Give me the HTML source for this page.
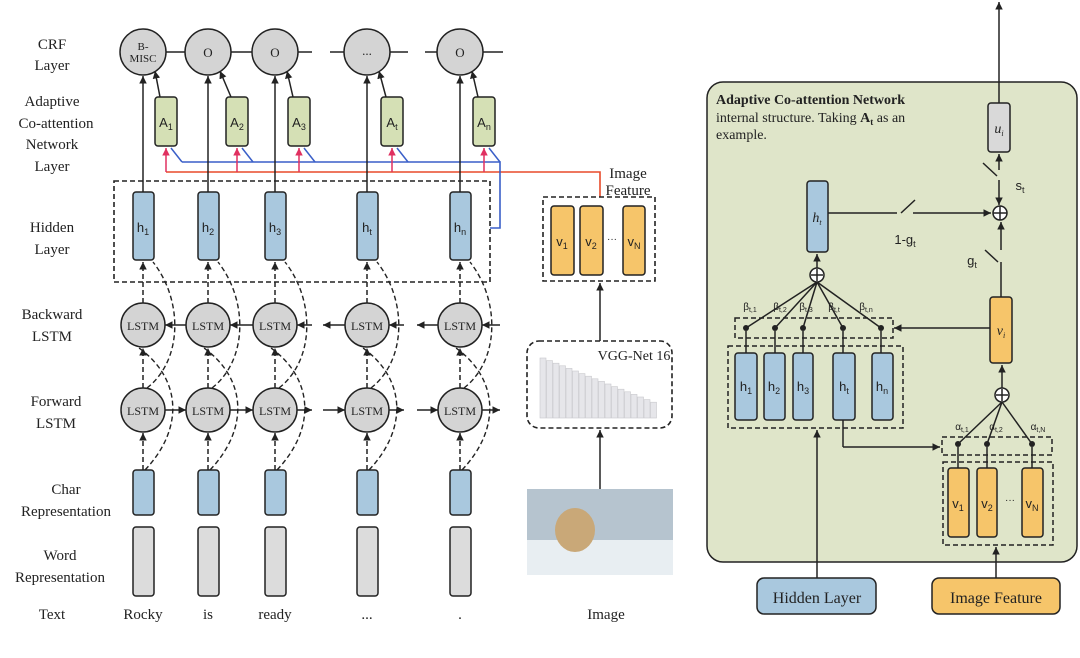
<!DOCTYPE html>
<html><head><meta charset="utf-8"><style>
html,body{margin:0;padding:0;background:#fff;}
svg{display:block;font-family:"Liberation Serif",serif;}
.s{font-family:"Liberation Sans",sans-serif;}
</style></head><body>
<svg id="g" width="1080" height="658" viewBox="0 0 1080 658" xmlns="http://www.w3.org/2000/svg">
<defs>
<marker id="ar" markerWidth="6" markerHeight="6" refX="5" refY="3" orient="auto"><path d="M0,0.5 L5,3 L0,5.5z" fill="#222"/></marker>
<marker id="arr" markerWidth="6" markerHeight="6" refX="5" refY="3" orient="auto"><path d="M0,0.5 L5,3 L0,5.5z" fill="#e03060"/></marker>
</defs>
<!-- right panel background -->
<rect x="707" y="82" width="370" height="480" rx="16" fill="#dfe5c9" stroke="#222" stroke-width="1.5"/>
<g id="shapes"></g>
<!-- left labels -->
<g font-size="15" text-anchor="middle" fill="#222">
<text x="52" y="49">CRF</text><text x="52" y="70">Layer</text>
<text x="52" y="106">Adaptive</text><text x="56" y="128">Co-attention</text><text x="52" y="149">Network</text><text x="52" y="171">Layer</text>
<text x="52" y="232">Hidden</text><text x="52" y="254">Layer</text>
<text x="52" y="319">Backward</text><text x="52" y="341">LSTM</text>
<text x="56" y="406">Forward</text><text x="56" y="428">LSTM</text>
<text x="66" y="494">Char</text><text x="66" y="516">Representation</text>
<text x="60" y="560">Word</text><text x="60" y="582">Representation</text>
<text x="52" y="619">Text</text>
<text x="143" y="619">Rocky</text><text x="208" y="619">is</text><text x="275" y="619">ready</text><text x="367" y="619">...</text><text x="460" y="619">.</text>
<text x="606" y="619">Image</text>
<text x="628" y="178">Image</text><text x="628" y="195">Feature</text>
<text x="634" y="360" font-size="14">VGG-Net 16</text>
<text x="817" y="603" font-size="16">Hidden Layer</text>
<text x="996" y="603" font-size="16">Image Feature</text>
<text x="143" y="50" font-size="11">B-</text><text x="143" y="62" font-size="11">MISC</text>
<text x="208" y="57" font-size="13">O</text><text x="275" y="57" font-size="13">O</text><text x="367" y="55" font-size="13">...</text><text x="460" y="57" font-size="13">O</text>
</g>
<g font-size="12" text-anchor="middle" fill="#222">
<text x="143" y="330">LSTM</text><text x="208" y="330">LSTM</text><text x="275" y="330">LSTM</text><text x="367" y="330">LSTM</text><text x="460" y="330">LSTM</text>
<text x="143" y="415">LSTM</text><text x="208" y="415">LSTM</text><text x="275" y="415">LSTM</text><text x="367" y="415">LSTM</text><text x="460" y="415">LSTM</text>
</g>
<g class="s" font-size="13" text-anchor="middle" fill="#222">
<text x="166" y="127">A<tspan font-size="9" dy="3">1</tspan></text>
<text x="237" y="127">A<tspan font-size="9" dy="3">2</tspan></text>
<text x="299" y="127">A<tspan font-size="9" dy="3">3</tspan></text>
<text x="392" y="127">A<tspan font-size="9" dy="3">t</tspan></text>
<text x="484" y="127">A<tspan font-size="9" dy="3">n</tspan></text>
<text x="143" y="232">h<tspan font-size="9" dy="3">1</tspan></text>
<text x="208" y="232">h<tspan font-size="9" dy="3">2</tspan></text>
<text x="275" y="232">h<tspan font-size="9" dy="3">3</tspan></text>
<text x="367" y="232">h<tspan font-size="9" dy="3">t</tspan></text>
<text x="460" y="232">h<tspan font-size="9" dy="3">n</tspan></text>
<text x="562" y="246">v<tspan font-size="9" dy="3">1</tspan></text>
<text x="591" y="246">v<tspan font-size="9" dy="3">2</tspan></text>
<text x="612" y="242" font-size="10">···</text>
<text x="634" y="246">v<tspan font-size="9" dy="3">N</tspan></text>
<text x="746" y="391">h<tspan font-size="9" dy="3">1</tspan></text>
<text x="774" y="391">h<tspan font-size="9" dy="3">2</tspan></text>
<text x="803" y="391">h<tspan font-size="9" dy="3">3</tspan></text>
<text x="844" y="391">h<tspan font-size="9" dy="3">t</tspan></text>
<text x="882" y="391">h<tspan font-size="9" dy="3">n</tspan></text>
<text x="958" y="508">v<tspan font-size="9" dy="3">1</tspan></text>
<text x="987" y="508">v<tspan font-size="9" dy="3">2</tspan></text>
<text x="1010" y="503" font-size="10">···</text>
<text x="1032" y="508">v<tspan font-size="9" dy="3">N</tspan></text>
<text x="905" y="244">1-g<tspan font-size="9" dy="3">t</tspan></text>
<text x="972" y="265">g<tspan font-size="9" dy="3">t</tspan></text>
<text x="1020" y="190">s<tspan font-size="9" dy="3">t</tspan></text>
<g font-size="10"><text x="750" y="310">β<tspan font-size="7" dy="2">t,1</tspan></text><text x="780" y="310">β<tspan font-size="7" dy="2">t,2</tspan></text><text x="806" y="310">β<tspan font-size="7" dy="2">t,3</tspan></text><text x="834" y="310">β<tspan font-size="7" dy="2">t,t</tspan></text><text x="866" y="310">β<tspan font-size="7" dy="2">t,n</tspan></text>
<text x="962" y="430">α<tspan font-size="7" dy="2">t,1</tspan></text><text x="996" y="430">α<tspan font-size="7" dy="2">t,2</tspan></text><text x="1038" y="430">α<tspan font-size="7" dy="2">t,N</tspan></text></g>
</g>
<g font-size="14" font-family="Liberation Serif,serif" fill="#222" font-style="italic" text-anchor="middle">
<text x="999" y="133">u<tspan font-size="8" dy="3">i</tspan></text>
<text x="817" y="222">h<tspan font-size="8" dy="3">t</tspan></text>
<text x="1001" y="335">v<tspan font-size="8" dy="3">i</tspan></text>
</g>
<g font-size="14" fill="#222">
<text x="716" y="104" font-weight="bold">Adaptive Co-attention Network</text>
<text x="716" y="122">internal structure. Taking <tspan font-weight="bold">A<tspan font-size="9" dy="3">t</tspan></tspan><tspan dy="-3"> as an</tspan></text>
<text x="716" y="139">example.</text>
</g>
</svg>
<script>
const g=document.getElementById('shapes');let h='';
const cols=[143,208,275,367,460],ac=[166,237,299,392,484];
const R=(x,y,w,hh,f,rx=3,ex='')=>h+=`<rect x="${x}" y="${y}" width="${w}" height="${hh}" rx="${rx}" fill="${f}" stroke="#222" stroke-width="1.5" ${ex}/>`;
const L=(x1,y1,x2,y2,ex='')=>h+=`<line x1="${x1}" y1="${y1}" x2="${x2}" y2="${y2}" stroke="#222" stroke-width="1.5" ${ex}/>`;
const C=(x,y,r,f='#d4d4d4')=>h+=`<circle cx="${x}" cy="${y}" r="${r}" fill="${f}" stroke="#222" stroke-width="1.5"/>`;
const D='stroke-dasharray="5,3"';
// CRF lines
[[166,185],[231,252],[298,312],[330,344],[390,408],[425,437],[483,503]].forEach(a=>L(a[0],52,a[1],52));
// colored lines
h+=`<polyline points="166,172 600,172 600,197" fill="none" stroke="#e84a2a" stroke-width="1.6"/>`;
h+=`<polyline points="182,162 500,162 500,228 490,228" fill="none" stroke="#3a5fc8" stroke-width="1.6"/>`;
cols.forEach((c,i)=>{
 const a=ac[i];
 L(c,192,c,76,'marker-end="url(#ar)"');
 L(a-6,97,c+12,71,'marker-end="url(#ar)"');
 h+=`<line x1="${a}" y1="172" x2="${a}" y2="148" stroke="#e03060" stroke-width="1.5" marker-end="url(#arr)"/>`;
 h+=`<line x1="${a+16}" y1="162" x2="${a+5}" y2="148" stroke="#3a5fc8" stroke-width="1.5"/>`;
 R(a-11,97,22,49,'#d5e0b5');
 R(c-10,192,21,68,'#a9c8de');
 C(c,52,23);
 // lstm
 L(c,470,c,433,D+' marker-end="url(#ar)"');
 L(c,388,c,348,D+' marker-end="url(#ar)"');
 L(c,303,c,262,D+' marker-end="url(#ar)"');
 h+=`<path d="M${c+2},470 C${c+40},430 ${c+40},380 ${c-4},348" fill="none" stroke="#222" stroke-width="1.4" ${D}/>`;
 h+=`<path d="M${c+4},388 C${c+40},360 ${c+40},300 ${c+10},262" fill="none" stroke="#222" stroke-width="1.4" ${D}/>`;
 C(c,325,22);C(c,410,22);
 R(c-10,470,21,45,'#a9c8de');
 R(c-10,527,21,69,'#dcdcdc');
});
// lstm horizontal arrows
[[165,186],[230,253],[297,312],[323,345],[389,404],[417,438],[482,500]].forEach(a=>{L(a[0],410,a[1],410,'marker-end="url(#ar)"');L(a[1],325,a[0],325,'marker-end="url(#ar)"');});
h+=`<rect x="114" y="181" width="376" height="101" fill="none" stroke="#222" stroke-width="1.6" ${D}/>`;
// image feature
h+=`<rect x="543" y="197" width="112" height="84" fill="none" stroke="#222" stroke-width="1.6" ${D}/>`;
R(551,206,23,69,'#f6c56a');R(580,206,23,69,'#f6c56a');R(623,206,22,69,'#f6c56a');
L(600,341,600,283,'marker-end="url(#ar)"');
h+=`<rect x="527" y="341" width="145" height="87" rx="12" fill="#fff" stroke="#222" stroke-width="1.6" ${D}/>`;
for(let k=0;k<18;k++){const x=540+k*6.5,hh=60-k*2.6;h+=`<rect x="${x}" y="${418-hh}" width="6" height="${hh}" fill="#e6e6ea" stroke="#c8c8cc" stroke-width="0.6"/>`;}
L(600,489,600,430,'marker-end="url(#ar)"');
h+=`<rect x="527" y="489" width="146" height="86" fill="#b6c4cf"/><rect x="527" y="540" width="146" height="35" fill="#e8eef2"/><ellipse cx="575" cy="530" rx="20" ry="22" fill="#c9a878"/>`;
// right panel internals
L(999,103,999,2,'marker-end="url(#ar)"');
R(988,103,22,49,'#d9d9d9');
L(999,170,999,154,'marker-end="url(#ar)"');
L(983,163,997,176);L(999,180,999,205,'marker-end="url(#ar)"');
C(1000,213,7,'#fff');L(993,213,1007,213);L(1000,206,1000,220);
L(828,213,897,213);L(901,213,915,200);L(913,213,991,213,'marker-end="url(#ar)"');
L(1001,250,1001,222,'marker-end="url(#ar)"');L(985,250,998,262);L(1001,262,1001,297);
R(807,181,21,71,'#a9c8de');
L(817,268,817,254,'marker-end="url(#ar)"');
C(817,275,7,'#fff');L(811,275,823,275);L(817,269,817,281);
R(990,297,22,66,'#f6c56a');
L(990,328,894,328,'marker-end="url(#ar)"');
[746,775,803,843,881].forEach(x=>{L(817,282,x,328);h+=`<circle cx="${x}" cy="328" r="3" fill="#222"/>`;L(x,353,x,331);});
h+=`<rect x="735" y="318" width="158" height="20" fill="none" stroke="#222" stroke-width="1.5" ${D}/>`;
[[735,22],[764,21],[793,20],[833,22],[872,21]].forEach(a=>R(a[0],353,a[1],67,'#a9c8de'));
h+=`<rect x="728" y="346" width="175" height="82" fill="none" stroke="#222" stroke-width="1.5" ${D}/>`;
L(1002,388,1002,365,'marker-end="url(#ar)"');
C(1002,395,7,'#fff');L(996,395,1008,395);L(1002,389,1002,401);
[958,987,1032].forEach(x=>{L(1002,402,x,444);h+=`<circle cx="${x}" cy="444" r="3" fill="#222"/>`;L(x,468,x,447);});
h+=`<rect x="942" y="437" width="110" height="18" fill="none" stroke="#222" stroke-width="1.5" ${D}/>`;
L(843,420,843,447);L(843,447,940,447,'marker-end="url(#ar)"');
R(948,468,21,69,'#f6c56a');R(977,468,20,69,'#f6c56a');R(1022,468,21,69,'#f6c56a');
h+=`<rect x="943" y="462" width="110" height="83" fill="none" stroke="#222" stroke-width="1.5" ${D}/>`;
L(817,578,817,430,'marker-end="url(#ar)"');
L(996,578,996,547,'marker-end="url(#ar)"');
R(757,578,119,36,'#a9c8de',7);R(932,578,128,36,'#f6c56a',7);
g.innerHTML=h;
</script>
</body></html>
